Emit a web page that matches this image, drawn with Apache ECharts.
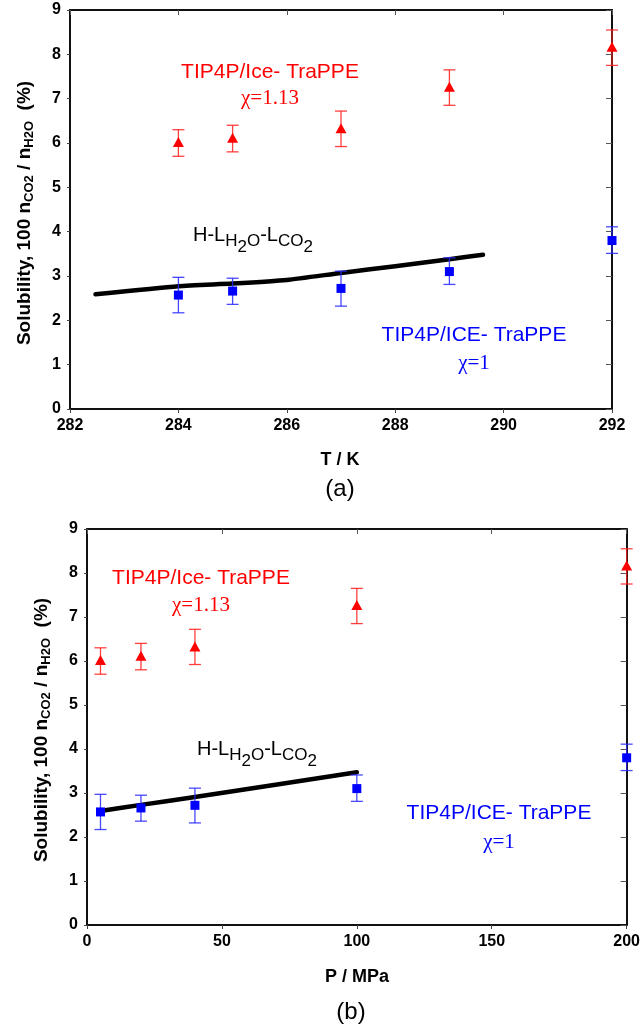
<!DOCTYPE html>
<html><head><meta charset="utf-8">
<script src="https://cdn.jsdelivr.net/npm/echarts@6/dist/echarts.min.js"></script>
<style>html,body{margin:0;padding:0;background:#fff}#c{width:643px;height:1028px}</style>
</head><body><div id="c"></div><script>
// ---- data ----
const tempK = [284, 285, 287, 289, 292];
const pressureMPa = [5, 20, 40, 100, 200];
const redSol = [6.02, 6.12, 6.33, 7.27, 8.17];
const redErrLo = [5.70, 5.80, 5.92, 6.85, 7.75];
const redErrHi = [6.30, 6.40, 6.72, 7.65, 8.55];
const blueSol = [2.57, 2.66, 2.72, 3.10, 3.80];
const blueErrLo = [2.17, 2.36, 2.32, 2.81, 3.51];
const blueErrHi = [2.97, 2.95, 3.11, 3.41, 4.11];
const curveT = [282.47, 284, 285, 286, 287, 288, 289, 289.62];
const curveSolT = [2.59, 2.77, 2.83, 2.91, 3.07, 3.22, 3.38, 3.48];
const curveP = [5, 20, 40, 100];
const curveSolP = [2.59, 2.73, 2.91, 3.47];
const xTicksT = {min: 282, max: 292, interval: 2};
const xTicksP = {min: 0, max: 200, interval: 50};
const yTicks = {min: 0, max: 9, interval: 1};

const SANS = 'Liberation Sans, Arial, sans-serif';
const SERIF = 'Liberation Serif, Times New Roman, serif';
const RED = '#ff0000', BLUE = '#0000ff';

const mctx = document.createElement('canvas').getContext('2d');
function measure(t, size, weight, family) {
  mctx.font = (weight || 'normal') + ' ' + size + 'px ' + family;
  return mctx.measureText(t).width;
}
function segText(segs, fill, family, weight) {
  const children = [];
  let x = 0;
  segs.forEach(s => {
    const w = measure(s.t, s.size, weight, family);
    children.push({type: 'text', x: x, y: s.dy || 0, style: {
      text: s.t, fontSize: s.size, fontFamily: family, fontWeight: weight,
      fill: fill, align: 'left', verticalAlign: 'middle'}});
    x += w;
  });
  return {children, width: x};
}
function hlLabel(left, cy) {
  const m = 20, s = 17;
  const r = segText([
    {t: 'H-L', size: m}, {t: 'H', size: s, dy: 6}, {t: '2', size: s, dy: 12},
    {t: 'O', size: s, dy: 6}, {t: '-L', size: m}, {t: 'CO', size: s, dy: 6},
    {t: '2', size: s, dy: 12}], '#000', SANS, 'normal');
  return {type: 'group', x: left, y: cy, children: r.children};
}
function yLabel(cx, cy) {
  const m = 19, s = 13;
  const r = segText([
    {t: 'Solubility, 100 n', size: m}, {t: 'CO2', size: s, dy: 4},
    {t: ' / n', size: m}, {t: 'H2O', size: s, dy: 4}, {t: '  (%)', size: m}],
    '#000', SANS, 'bold');
  r.children.forEach(c => { c.x -= r.width / 2; });
  return {type: 'group', x: cx, y: cy, rotation: Math.PI / 2, children: r.children};
}
function ctext(x, y, t, size, fill, family, weight) {
  return {type: 'text', x: x, y: y, style: {text: t, fontSize: size, fontFamily: family,
    fontWeight: weight || 'normal', fill: fill, align: 'center', verticalAlign: 'middle'}};
}

function errRender(color) {
  return function (params, api) {
    const x = api.value(0);
    const lo = api.coord([x, api.value(1)]);
    const hi = api.coord([x, api.value(2)]);
    const w = 6;
    const st = {stroke: color, lineWidth: 1.3};
    return {type: 'group', children: [
      {type: 'line', shape: {x1: lo[0], y1: lo[1], x2: hi[0], y2: hi[1]}, style: st},
      {type: 'line', shape: {x1: lo[0] - w, y1: lo[1], x2: lo[0] + w, y2: lo[1]}, style: st},
      {type: 'line', shape: {x1: hi[0] - w, y1: hi[1], x2: hi[0] + w, y2: hi[1]}, style: st}
    ]};
  };
}

const labelStyle = {fontFamily: SANS, fontWeight: 'bold', fontSize: 16, color: '#000', margin: 9};
const lineStyle = {show: true, onZero: false, lineStyle: {color: '#111', width: 2}};
function xAxes(grid, t) {
  return [
    {type: 'value', gridIndex: grid, position: 'bottom', min: t.min, max: t.max, interval: t.interval,
      axisLine: lineStyle, axisTick: {show: true, inside: false, length: 4, lineStyle: {color: '#444'}},
      axisLabel: Object.assign({}, labelStyle, {margin: 9}), splitLine: {show: false}},
    {type: 'value', gridIndex: grid, position: 'top', min: t.min, max: t.max, interval: t.interval,
      axisLine: lineStyle, axisTick: {show: true, inside: true, length: 5, lineStyle: {color: '#555'}},
      axisLabel: {show: false}, splitLine: {show: false}}
  ];
}
function yAxes(grid) {
  return [
    {type: 'value', gridIndex: grid, position: 'left', min: yTicks.min, max: yTicks.max, interval: yTicks.interval,
      axisLine: lineStyle, axisTick: {show: true, inside: false, length: 3, lineStyle: {color: '#444'}},
      axisLabel: labelStyle, splitLine: {show: false}},
    {type: 'value', gridIndex: grid, position: 'right', min: yTicks.min, max: yTicks.max, interval: yTicks.interval,
      axisLine: lineStyle, axisTick: {show: true, inside: true, length: 6, lineStyle: {color: '#555'}},
      axisLabel: {show: false}, splitLine: {show: false}}
  ];
}
function panelSeries(xi, yi, xs, cx, cy) {
  return [
    {type: 'line', xAxisIndex: xi, yAxisIndex: yi, data: cx.map((v, i) => [v, cy[i]]),
      showSymbol: false, symbol: 'none', smooth: 0.2, z: 2,
      lineStyle: {color: '#000', width: 4.5, cap: 'round', join: 'round'}},
    {type: 'custom', xAxisIndex: xi, yAxisIndex: yi, renderItem: errRender('rgba(40,40,255,0.85)'),
      encode: {x: 0, y: [1, 2]}, clip: false, z: 3,
      data: xs.map((v, i) => [v, blueErrLo[i], blueErrHi[i]])},
    {type: 'custom', xAxisIndex: xi, yAxisIndex: yi, renderItem: errRender('rgba(255,30,30,0.85)'),
      encode: {x: 0, y: [1, 2]}, clip: false, z: 3,
      data: xs.map((v, i) => [v, redErrLo[i], redErrHi[i]])},
    {type: 'scatter', xAxisIndex: xi, yAxisIndex: yi, symbol: 'rect', symbolSize: 9, clip: false, z: 4,
      itemStyle: {color: BLUE, opacity: 1}, data: xs.map((v, i) => [v, blueSol[i]])},
    {type: 'scatter', xAxisIndex: xi, yAxisIndex: yi, symbol: 'triangle', symbolSize: [11, 10], clip: false, z: 4,
      itemStyle: {color: RED, opacity: 1}, data: xs.map((v, i) => [v, redSol[i]])}
  ];
}

const chart = echarts.init(document.getElementById('c'), null, {renderer: 'canvas'});
chart.setOption({
  animation: false,
  backgroundColor: '#fff',
  grid: [
    {left: 70, top: 10, width: 542, height: 399},
    {left: 87, top: 529, width: 542, height: 396}
  ],
  xAxis: xAxes(0, xTicksT).concat(xAxes(1, xTicksP)),
  yAxis: yAxes(0).concat(yAxes(1)),
  series: panelSeries(0, 0, tempK, curveT, curveSolT).concat(panelSeries(2, 2, pressureMPa, curveP, curveSolP)),
  graphic: [
    yLabel(25, 213),
    ctext(270, 72, 'TIP4P/Ice- TraPPE', 21, RED, SANS),
    ctext(270, 98, 'χ=1.13', 21, RED, SERIF),
    hlLabel(193, 235),
    ctext(474, 335, 'TIP4P/ICE- TraPPE', 21, BLUE, SANS),
    ctext(474, 363, 'χ=1', 21, BLUE, SERIF),
    ctext(340, 460, 'T / K', 18, '#000', SANS, 'bold'),
    ctext(340, 489, '(a)', 24, '#000', SANS),

    yLabel(42, 730),
    ctext(201, 578, 'TIP4P/Ice- TraPPE', 21, RED, SANS),
    ctext(201, 605, 'χ=1.13', 21, RED, SERIF),
    hlLabel(197, 749),
    ctext(499, 813, 'TIP4P/ICE- TraPPE', 21, BLUE, SANS),
    ctext(499, 842, 'χ=1', 21, BLUE, SERIF),
    ctext(357, 977, 'P / MPa', 18, '#000', SANS, 'bold'),
    ctext(351, 1012, '(b)', 24, '#000', SANS)
  ]
});
</script></body></html>
